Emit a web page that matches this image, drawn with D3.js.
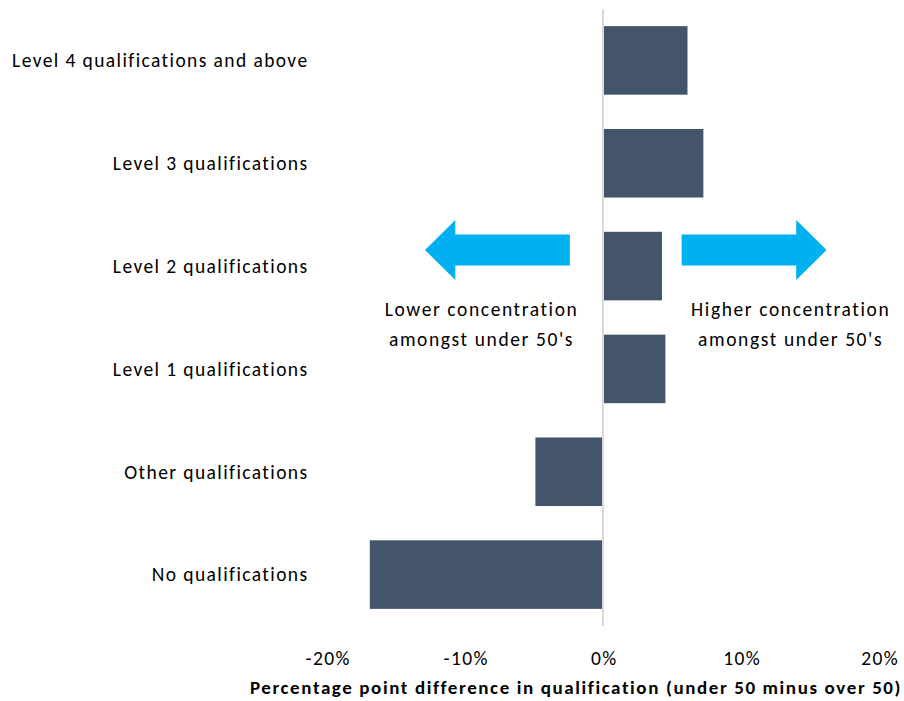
<!DOCTYPE html>
<html>
<head>
<meta charset="utf-8">
<script src="https://cdn.jsdelivr.net/npm/d3@7"></script>
<style>
  body { margin: 0; background: #fff; }
  text { font-family: Carlito, Lato, "Open Sans", sans-serif; fill: #000; }
</style>
</head>
<body>
<div id="chart"></div>
<script>
  var width = 904,
      height = 701;

  // data
  var categories = ["Level 4 qualifications and above", "Level 3 qualifications",
    "Level 2 qualifications", "Level 1 qualifications", "Other qualifications", "No qualifications"];
  var values = [6.05, 7.2, 4.2, 4.45, -4.9, -16.9];
  var ticks = [-20, -10, 0, 10, 20];
  var axisTitle = "Percentage point difference in qualification (under 50 minus over 50)";
  var notes = [
    {lines: ["Lower concentration", "amongst under 50's"], x: -8.8},
    {lines: ["Higher concentration", "amongst under 50's"], x: 13.6}
  ];
  // arrows in data units: [shaft end near zero, head base, tip]
  var arrows = [[-2.4, -10.7, -12.9], [5.7, 14.0, 16.2]];

  var svg = d3.select("#chart").append("svg")
      .attr("width", width)
      .attr("height", height);

  var x = d3.scaleLinear()
      .domain([-20, 20])
      .range([327, 879]);

  var y = d3.scaleBand()
      .domain(categories)
      .range([9, 626])
      .paddingInner(1 / 3)
      .paddingOuter(1 / 6);

  // zero line
  svg.append("line")
      .attr("x1", x(0)).attr("x2", x(0))
      .attr("y1", y.range()[0]).attr("y2", y.range()[1])
      .attr("stroke", "#d9d9d9")
      .attr("stroke-width", 2);

  svg.selectAll("rect.bar")
    .data(values)
    .enter().append("rect")
      .attr("class", "bar")
      .attr("x", function(d) { return d < 0 ? x(d) : x(0) + 1; })
      .attr("width", function(d) { return Math.abs(x(d) - x(0)) - (d < 0 ? 1 : 0); })
      .attr("y", function(d, i) { return y(categories[i]); })
      .attr("height", y.bandwidth())
      .attr("fill", "#44546a");

  // category labels
  svg.selectAll("text.cat")
    .data(categories)
    .enter().append("text")
      .attr("class", "cat")
      .attr("x", 308.5)
      .attr("y", function(d) { return y(d) + y.bandwidth() / 2; })
      .attr("dy", "0.35em")
      .attr("text-anchor", "end")
      .style("font-size", "19.5px")
      .style("letter-spacing", "1.4px")
      .text(function(d) { return d; });

  // x axis
  var xAxis = d3.axisBottom(x)
      .tickValues(ticks)
      .tickSize(0)
      .tickPadding(0)
      .tickFormat(function(d) { return d + "%"; });

  var gx = svg.append("g")
      .attr("transform", "translate(0,651)")
      .call(xAxis);
  gx.select(".domain").remove();
  gx.selectAll("text")
      .attr("dx", "0.7px")
      .style("font-size", "19.5px")
      .style("letter-spacing", "1.4px")
      .style("font-family", "Carlito, Lato, 'Open Sans', sans-serif");

  svg.append("text")
      .attr("x", 576)
      .attr("y", 694)
      .attr("text-anchor", "middle")
      .style("font-size", "19px")
      .style("font-weight", "bold")
      .style("letter-spacing", "1.6px")
      .text(axisTitle);

  // arrows
  var ay = 250, shaftH = 15.5, headH = 30;
  svg.selectAll("path.arrow")
    .data(arrows)
    .enter().append("path")
      .attr("class", "arrow")
      .attr("fill", "#00b0f0")
      .attr("d", function(a) {
        var s = x(a[0]), b = x(a[1]), t = x(a[2]);
        return "M" + s + "," + (ay - shaftH) +
          "L" + b + "," + (ay - shaftH) +
          "L" + b + "," + (ay - headH) +
          "L" + t + "," + ay +
          "L" + b + "," + (ay + headH) +
          "L" + b + "," + (ay + shaftH) +
          "L" + s + "," + (ay + shaftH) + "Z";
      });

  var note = svg.selectAll("text.note")
    .data(notes)
    .enter().append("text")
      .attr("class", "note")
      .attr("text-anchor", "middle")
      .style("font-size", "19.5px")
      .style("letter-spacing", "1.6px");
  note.selectAll("tspan")
    .data(function(d) { return d.lines.map(function(l) { return {l: l, x: d.x}; }); })
    .enter().append("tspan")
      .attr("x", function(d) { return x(d.x); })
      .attr("y", function(d, i) { return 316 + i * 30; })
      .text(function(d) { return d.l; });
</script>
</body>
</html>
